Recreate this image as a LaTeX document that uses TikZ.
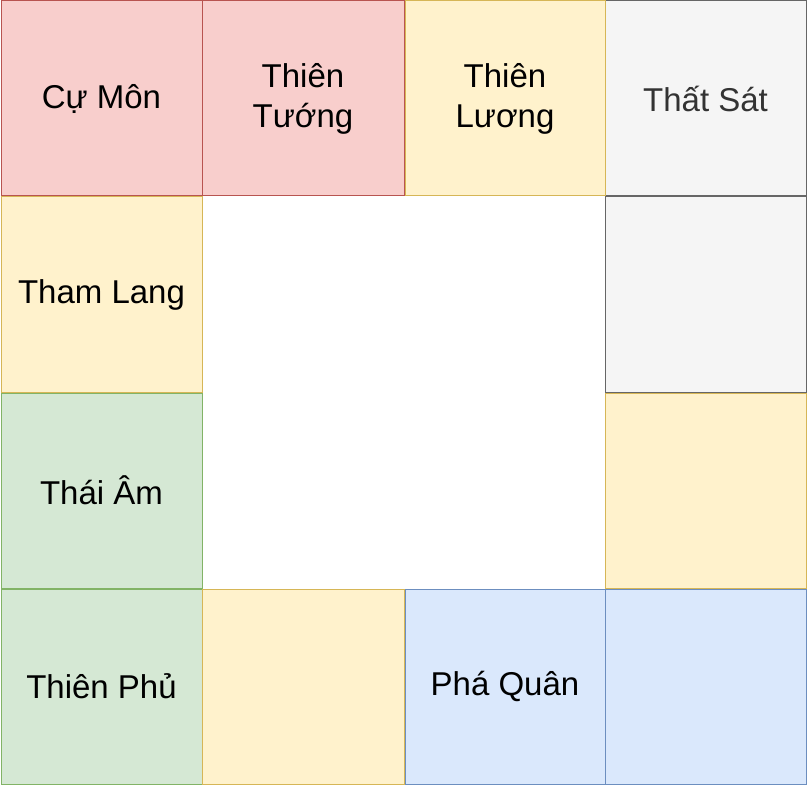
\documentclass[tikz,border=0pt]{standalone}
\usepackage{fontspec}
\setmainfont{Liberation Sans}
\definecolor{redfill}{HTML}{F8CECC}\definecolor{redline}{HTML}{B85450}
\definecolor{yelfill}{HTML}{FFF2CC}\definecolor{yelline}{HTML}{D6B656}
\definecolor{grayfill}{HTML}{F5F5F5}\definecolor{grayline}{HTML}{666666}
\definecolor{grnfill}{HTML}{D5E8D4}\definecolor{grnline}{HTML}{82B366}
\definecolor{blufill}{HTML}{DAE8FC}\definecolor{bluline}{HTML}{6C8EBF}
\definecolor{graytext}{HTML}{333333}
\begin{document}
\begin{tikzpicture}[x=1pt,y=-1pt,
  cell/.style={draw, line width=1pt, minimum width=201pt, minimum height=195pt, inner sep=0pt,
    anchor=north west, align=center, font=\fontsize{33}{40}\selectfont, text=black},
  redc/.style={cell, fill=redfill, draw=redline},
  yelc/.style={cell, fill=yelfill, draw=yelline},
  grayc/.style={cell, fill=grayfill, draw=grayline, text=graytext},
  grnc/.style={cell, fill=grnfill, draw=grnline},
  bluc/.style={cell, fill=blufill, draw=bluline}]
\useasboundingbox (0,0) rectangle (808,786);
\fill[white] (0,0) rectangle (808,786);
% row 3
\node[grnc] (tp) at (0.5,588.5) {Thiên Phủ};
\node[yelc, minimum width=202pt] (e3b) at (201.5,588.5) {};
\node[bluc, minimum width=200pt] (pq) at (404.5,588.5) {Phá Quân};
\node[bluc] (e3d) at (604.5,588.5) {};
% row 2
\node[grnc] (ta) at (0.5,392.5) {Thái Âm};
\node[yelc] (e2d) at (604.5,392.5) {};
% row 1
\node[yelc] (tl) at (0.5,196.5) {Tham Lang};
\node[grayc] (e1d) at (604.5,196.5) {};
% row 0
\node[grayc] (ts) at (604.5,0.5) {Thất Sát};
\node[yelc, minimum width=200pt] (tlu) at (404.5,0.5) {Thiên\\Lương};
\node[redc, minimum width=202pt] (tt) at (201.5,0.5) {Thiên\\Tướng};
\node[redc] (cm) at (0.5,0.5) {Cự Môn};
\end{tikzpicture}
\end{document}
